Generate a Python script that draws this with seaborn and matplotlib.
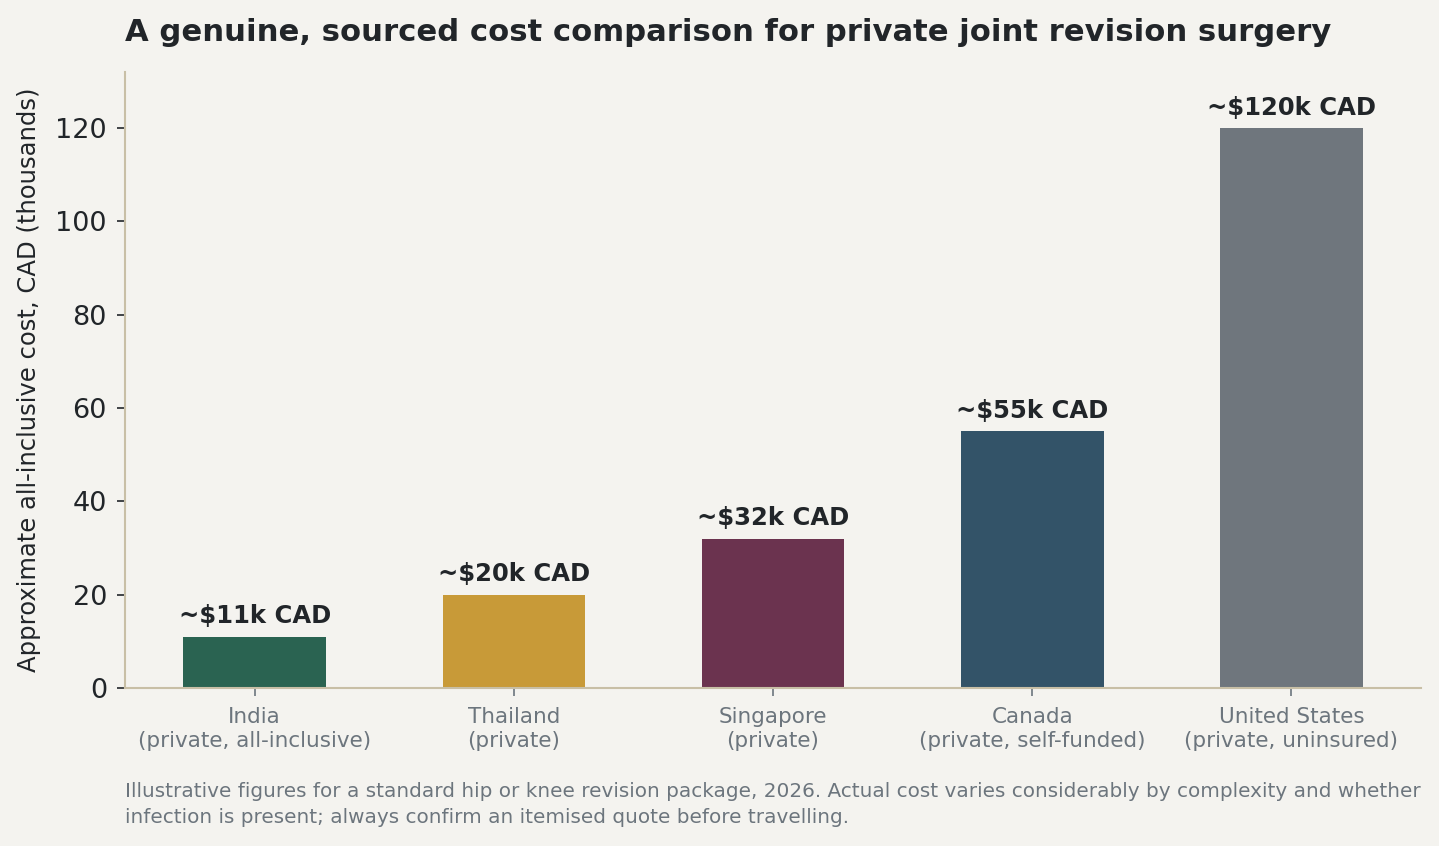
import matplotlib
matplotlib.use("Agg")
import matplotlib.pyplot as plt
import seaborn as sns
import pandas as pd

# data
countries = ["India\n(private, all-inclusive)", "Thailand\n(private)", "Singapore\n(private)",
             "Canada\n(private, self-funded)", "United States\n(private, uninsured)"]
cost_k = [11, 20, 32, 55, 120]
labels = ["~$11k CAD", "~$20k CAD", "~$32k CAD", "~$55k CAD", "~$120k CAD"]
colors = ["#2a6351", "#c89a38", "#6b334f", "#335368", "#6f767d"]

BG = "#f4f3ef"
INK = "#212529"
GREY = "#6c757d"
SPINE = "#c8bfa6"

sns.set_theme(style="ticks")
plt.rcParams["font.family"] = ["DejaVu Sans"]

df = pd.DataFrame({"country": countries, "cost": cost_k})

fig = plt.figure(figsize=(14.39, 8.46), dpi=100, facecolor=BG)
ax = fig.add_axes([0.0869, 0.1868, 0.9006, 0.7281])
ax.set_facecolor(BG)

sns.barplot(data=df, x="country", y="cost", hue="country", palette=colors,
            width=0.55, legend=False, saturation=1, linewidth=0, ax=ax)

# value labels above bars
for i, (v, t) in enumerate(zip(cost_k, labels)):
    ax.text(i, v + 1.8, t, ha="center", va="bottom", fontsize=17.5, fontweight="bold", color=INK)

ax.set_ylim(0, 132)
ax.set_xlim(-0.5, 4.5)
ax.set_xlabel("")
ax.set_ylabel("Approximate all-inclusive cost, CAD (thousands)", fontsize=17.5, color=INK, labelpad=10)
ax.tick_params(axis="y", labelsize=19.5, colors=INK, length=6, width=1.2, pad=7)
ax.tick_params(axis="x", labelsize=15.5, colors=GREY, length=6, width=1.2, pad=8)
ax.set_yticks([0, 20, 40, 60, 80, 100, 120])

sns.despine(ax=ax)
for s in ["left", "bottom"]:
    ax.spines[s].set_color(SPINE)
    ax.spines[s].set_linewidth(1.5)

fig.text(0.0869, 0.945, "A genuine, sourced cost comparison for private joint revision surgery",
         fontsize=22.1, fontweight="bold", color=INK, ha="left", va="bottom")

fig.text(0.0869, 0.022,
         "Illustrative figures for a standard hip or knee revision package, 2026. Actual cost varies considerably by complexity and whether\n"
         "infection is present; always confirm an itemised quote before travelling.",
         fontsize=14.4, color=GREY, ha="left", va="bottom", linespacing=1.5)

fig.savefig("out.png", dpi=100, facecolor=BG)
